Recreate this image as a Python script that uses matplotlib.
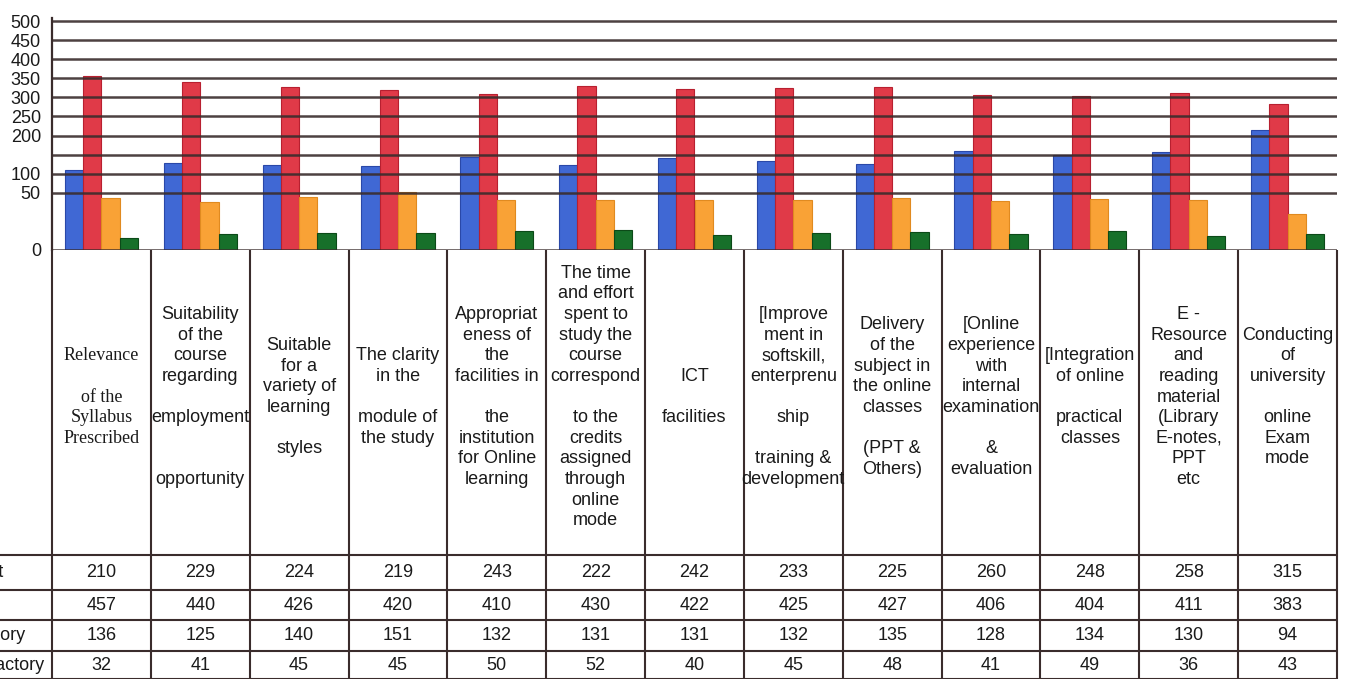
import matplotlib
matplotlib.use('Agg')
from matplotlib import pyplot as plt
import numpy as np

plt.rcParams['font.family'] = ['Liberation Sans', 'DejaVu Sans']

# category labels as printed in the table (line breaks as in the picture)
categories = [
  "Relevance\n\nof the\nSyllabus\nPrescribed",
  "Suitability\nof the\ncourse\nregarding\n\nemployment\n\n\nopportunity",
  "Suitable\nfor a\nvariety of\nlearning\n\nstyles",
  "The clarity\nin the\n\nmodule of\nthe study",
  "Appropriat\neness of\nthe\nfacilities in\n\nthe\ninstitution\nfor Online\nlearning",
  "The time\nand effort\nspent to\nstudy the\ncourse\ncorrespond\n\nto the\ncredits\nassigned\nthrough\nonline\nmode",
  "ICT\n\nfacilities",
  "[Improve\nment in\nsoftskill,\nenterprenu\n\nship\n\ntraining &\ndevelopment",
  "Delivery\nof the\nsubject in\nthe online\nclasses\n\n(PPT &\nOthers)",
  "[Online\nexperience\nwith\ninternal\nexamination\n\n&\nevaluation",
  "[Integration\nof online\n\npractical\nclasses",
  "E -\nResource\nand\nreading\nmaterial\n(Library\nE-notes,\nPPT\netc",
  "Conducting\nof\nuniversity\n\nonline\nExam\nmode",
]

series_names = ['Excellent', 'Good', 'Satisfactory', 'Unsatisfactory']
excellent = [210, 229, 224, 219, 243, 222, 242, 233, 225, 260, 248, 258, 315]
good = [457, 440, 426, 420, 410, 430, 422, 425, 427, 406, 404, 411, 383]
satisfactory = [136, 125, 140, 151, 132, 131, 131, 132, 135, 128, 134, 130, 94]
unsatisfactory = [32, 41, 45, 45, 50, 52, 40, 45, 48, 41, 49, 36, 43]

# the printed axis labels do not follow the gridlines evenly
ytick_values = [0, 150, 200, 250, 300, 350, 400, 450, 500, 550, 600]
ytick_labels = ['0', '50', '100', '', '200', '250', '300', '350', '400', '450', '500']

colors = ['#4068d4', '#e03a48', '#f9a236', '#17702a']
edges = ['#2a48a8', '#b82030', '#e08a20', '#0c4a18']
line_col = '#3a2c2c'

W, H = 1345, 679

def rect(x0, y0, x1, y1):
  return [x0 / W, 1 - y1 / H, (x1 - x0) / W, (y1 - y0) / H]

fig = plt.figure(figsize=(W / 100, H / 100), dpi=100)

# bars
ax = fig.add_axes(rect(52, 18, 1337, 250))
x = np.arange(len(categories))
width = 0.185
all_series = [excellent, good, satisfactory, unsatisfactory]
for i in range(len(all_series)):
  ax.bar(x + (i - 1.5) * width, all_series[i], width, color=colors[i],
         edgecolor=edges[i], linewidth=0.8, label=series_names[i])

ax.set_xlim(-0.5, len(categories) - 0.5)
ax.set_ylim(0, 608)
ax.set_yticks(ytick_values)
ax.set_yticklabels(ytick_labels, fontsize=13)
ax.set_xticks([])
ax.tick_params(axis='y', length=0, pad=8, colors='#1a1a1a')
ax.set_axisbelow(False)
ax.yaxis.grid(True, color=line_col, linewidth=1.8, alpha=0.9)
for s in ['top', 'right', 'bottom']:
  ax.spines[s].set_visible(False)
ax.spines['left'].set_color(line_col)
ax.spines['left'].set_linewidth(1.6)
ax.patch.set_alpha(0)

# data table under the chart
tab = fig.add_axes(rect(52, 250, 1337, 679))
tab.set_xlim(-0.5, len(categories) - 0.5)
tab.set_ylim(679, 250)
tab.axis('off')

row_edges = [555, 590, 620, 651, 679]
tab.vlines(np.arange(-0.5, len(categories), 1), 250, 679, color=line_col,
           linewidth=1.5, clip_on=False)
tab.hlines(row_edges, -1.2, len(categories) - 0.5, color=line_col,
           linewidth=1.5, clip_on=False)

for j in range(len(categories)):
  fam = 'Liberation Serif' if j == 0 else 'Liberation Sans'
  tab.text(j, 397, categories[j], ha='center', va='center', fontsize=13,
           family=fam, linespacing=1.28, color='#1a1a1a')

for i in range(len(all_series)):
  yc = (row_edges[i] + row_edges[i + 1]) / 2
  for j in range(len(categories)):
    tab.text(j, yc, str(all_series[i][j]), ha='center', va='center',
             fontsize=13, color='#1a1a1a')
  # row names: the left part of the table is cut off in the picture
  fig.text(-69 / W, 1 - yc / H, series_names[i], ha='left', va='center',
           fontsize=13, color='#1a1a1a')

fig.savefig('out.png', dpi=100)
